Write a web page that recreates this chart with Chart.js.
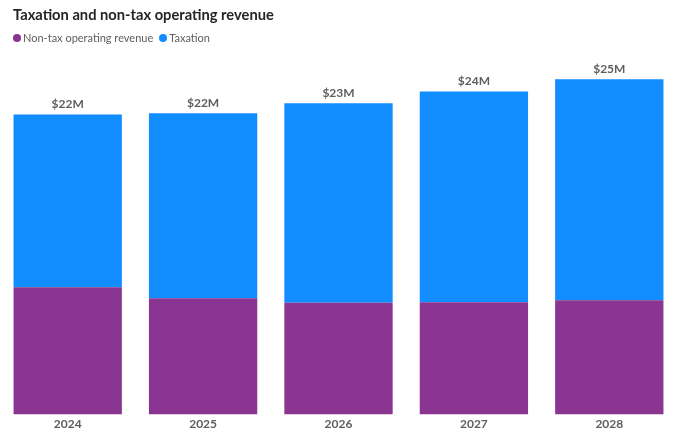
<!DOCTYPE html>
<html>
<head>
<meta charset="utf-8">
<script src="https://cdn.jsdelivr.net/npm/chart.js@4"></script>
<style>
  body { margin: 0; background: #fff; font-family: Lato, sans-serif; }
  #wrap { position: relative; width: 678px; height: 438px; }
  #title { position: absolute; left: 13px; top: 5px; font-size: 14.7px; font-weight: 700; color: #252423; }
  #legend { position: absolute; left: 13px; top: 31px; font-size: 11px; color: #605E5C; display: flex; }
  #legend span.dot { display: inline-block; width: 8px; height: 8px; border-radius: 50%; margin-right: 2px; }
  #legend .item { margin-right: 6px; display: flex; align-items: center; }
  canvas { position: absolute; left: 0; top: 0; }
</style>
</head>
<body>
<div id="wrap">
  <canvas id="chart" width="678" height="438"></canvas>
  <div id="title">Taxation and non-tax operating revenue</div>
  <div id="legend"></div>
</div>
<script>
// Data (in $M)
const years = ['2024', '2025', '2026', '2027', '2028'];
const nonTaxRevenue = [9.44, 8.62, 8.30, 8.33, 8.48];
const taxation = [12.81, 13.73, 14.79, 15.63, 16.38];

const colors = { nonTax: '#8A3592', tax: '#118DFF' };

// Build the legend as html
const legendBox = document.getElementById('legend');
[['Non-tax operating revenue', colors.nonTax], ['Taxation', colors.tax]].forEach(([label, color]) => {
    const item = document.createElement('div');
    item.className = 'item';
    item.innerHTML = `<span class="dot" style="background:${color}"></span>${label}`;
    legendBox.appendChild(item);
});

// Draws the total above every stacked bar
const totalLabels = {
    id: 'totalLabels',
    afterDatasetsDraw(chart) {
        const ctx = chart.ctx;
        const topMeta = chart.getDatasetMeta(1);
        ctx.save();
        ctx.font = 'bold 12px Lato, sans-serif';
        ctx.fillStyle = '#605E5C';
        ctx.textAlign = 'center';
        ctx.textBaseline = 'bottom';
        topMeta.data.forEach((bar, i) => {
            const total = nonTaxRevenue[i] + taxation[i];
            ctx.fillText('$' + Math.round(total) + 'M', bar.x, bar.y - 4);
        });
        ctx.restore();
    }
};

const ctx = document.getElementById('chart').getContext('2d');
new Chart(ctx, {
    type: 'bar',
    data: {
        labels: years,
        datasets: [
            {
                label: 'Non-tax operating revenue',
                data: nonTaxRevenue,
                backgroundColor: colors.nonTax,
                barPercentage: 0.8,
                categoryPercentage: 1.0
            },
            {
                label: 'Taxation',
                data: taxation,
                backgroundColor: colors.tax,
                barPercentage: 0.8,
                categoryPercentage: 1.0
            }
        ]
    },
    options: {
        responsive: false,
        animation: false,
        layout: { padding: { top: 37, left: -1, right: 1, bottom: 5 } },
        plugins: {
            legend: { display: false },
            tooltip: { enabled: false }
        },
        scales: {
            x: {
                stacked: true,
                grid: { display: false, drawTicks: false },
                border: { display: false },
                ticks: {
                    color: '#605E5C',
                    font: { family: 'Lato, sans-serif', size: 12, weight: 'bold' },
                    padding: 2
                }
            },
            y: {
                stacked: true,
                display: false,
                min: 0,
                max: 28
            }
        }
    },
    plugins: [totalLabels]
});
</script>
</body>
</html>
